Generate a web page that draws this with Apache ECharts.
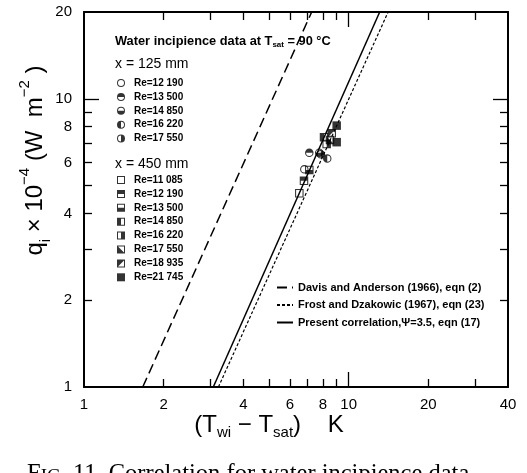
<!DOCTYPE html>
<html>
<head>
<meta charset="utf-8">
<script src="https://cdn.jsdelivr.net/npm/echarts@6/dist/echarts.min.js"></script>
<style>
  html, body { margin: 0; padding: 0; background: #fff; }
  #chart { width: 527px; height: 473px; }
</style>
</head>
<body>
<div id="chart"></div>
<script>
// Wall superheat (K) vs. incipience heat flux (x 10^-4 W m^-2), water at Tsat = 90 C
const reNear = ['Re=12 190', 'Re=13 500', 'Re=14 850', 'Re=16 220', 'Re=17 550'];
const nearPoints = [
  [[6.80, 5.69]],
  [[7.10, 6.50]],
  [[7.74, 6.50]],
  [[8.30, 6.20]],
  [[7.85, 6.42]]
];
const reFar = ['Re=11 085', 'Re=12 190', 'Re=13 500', 'Re=14 850', 'Re=16 220', 'Re=17 550', 'Re=18 935', 'Re=21 745'];
const farPoints = [
  [[6.51, 4.70]],
  [[6.78, 5.19]],
  [[7.10, 5.66]],
  [[8.07, 7.35]],
  [[8.26, 6.97]],
  [[8.50, 7.19]],
  [[8.63, 7.59]],
  [[9.01, 8.07], [9.01, 7.07]]
];
const davisX = [1.667, 7.25];
const davisY = [1, 20];
const frostX = [3.22, 14.1];
const frostY = [1, 20];
const presentX = [3.08, 13.1];
const presentY = [1, 20];
const xTickLabels = [1, 2, 4, 6, 8, 10, 20, 40];
const yTickLabels = [1, 2, 4, 6, 8, 10, 20];
const xMinorTicks = [2, 3, 4, 5, 6, 7, 8, 9, 20, 30];
const yMinorTicks = [2, 3, 4, 5, 6, 7, 8, 9];
const decadeTicks = [10];

// Marker outlines: outer shape clockwise, unfilled part counter-clockwise (hole)
const circleOuter = 'M0,10 A10,10 0 1,1 20,10 A10,10 0 1,1 0,10 Z ';
const squareOuter = 'M0,0 L20,0 L20,20 L0,20 Z ';
const circleSymbols = [
  circleOuter + 'M2.5,10 A7.5,7.5 0 1,0 17.5,10 A7.5,7.5 0 1,0 2.5,10 Z', // open
  circleOuter + 'M2.5,10 A7.5,7.5 0 0,0 17.5,10 Z',                        // top filled
  circleOuter + 'M17.5,10 A7.5,7.5 0 0,0 2.5,10 Z',                        // bottom filled
  circleOuter + 'M10,17.5 A7.5,7.5 0 0,0 10,2.5 Z',                        // left filled
  circleOuter + 'M10,2.5 A7.5,7.5 0 0,0 10,17.5 Z'                         // right filled
].map(p => 'path://' + p);
const squareSymbols = [
  squareOuter + 'M2.5,2.5 L2.5,17.5 L17.5,17.5 L17.5,2.5 Z', // open
  squareOuter + 'M2.5,10 L2.5,17.5 L17.5,17.5 L17.5,10 Z',   // top filled
  squareOuter + 'M2.5,2.5 L2.5,10 L17.5,10 L17.5,2.5 Z',     // bottom filled
  squareOuter + 'M10,2.5 L10,17.5 L17.5,17.5 L17.5,2.5 Z',   // left filled
  squareOuter + 'M2.5,2.5 L2.5,17.5 L10,17.5 L10,2.5 Z',     // right filled
  squareOuter + 'M2.5,2.5 L17.5,17.5 L17.5,2.5 Z',           // lower-left filled
  squareOuter + 'M17.5,2.5 L2.5,17.5 L17.5,17.5 Z',          // upper-left filled
  squareOuter                                                // solid
].map(p => 'path://' + p);

const zip = (xs, ys) => xs.map((x, i) => [x, ys[i]]);
const FONT = 'Liberation Sans';
const nearNames = reNear.map(n => 'x125 ' + n);
const farNames = reFar.map(n => 'x450 ' + n);
const lineNames = [
  'Davis and Anderson (1966), eqn (2)',
  'Frost and Dzakowic (1967), eqn (23)',
  'Present correlation,\u03A8=3.5, eqn (17)'
];

const series = [];
series.push({
  name: lineNames[0], type: 'line', data: zip(davisX, davisY), symbol: 'none',
  lineStyle: { color: '#000', width: 1.5, type: [10, 5] }, itemStyle: { color: '#000' }, z: 2
});
series.push({
  name: lineNames[1], type: 'line', data: zip(frostX, frostY), symbol: 'none',
  lineStyle: { color: '#000', width: 1.2, type: [3, 2] }, itemStyle: { color: '#000' }, z: 2
});
series.push({
  name: lineNames[2], type: 'line', data: zip(presentX, presentY), symbol: 'none',
  lineStyle: { color: '#000', width: 1.5, type: 'solid' }, itemStyle: { color: '#000' }, z: 2
});
nearNames.forEach((n, i) => series.push({
  name: n, type: 'scatter', data: nearPoints[i], symbol: circleSymbols[i], symbolSize: 8.5,
  itemStyle: { color: '#000' }, z: 3
}));
farNames.forEach((n, i) => series.push({
  name: n, type: 'scatter', data: farPoints[i], symbol: squareSymbols[i], symbolSize: 8.5,
  itemStyle: { color: '#000' }, z: 3
}));

const stripGroup = name => name.replace(/^x\d+ /, '');

function logAxis(extra) {
  return Object.assign({
    type: 'log', logBase: 10, gridIndex: 0,
    splitLine: { show: false }, minorTick: { show: false }
  }, extra);
}
const tickLine = { color: '#000', width: 1.3 };

const option = {
  animation: false,
  backgroundColor: '#fff',
  grid: { left: 84, right: 19, top: 12, bottom: 86, containLabel: false },
  title: [
    {
      text: 'Water incipience data at T{s|sat} = 90 \u00B0C',
      left: 115, top: 34, padding: 0,
      textStyle: {
        fontFamily: FONT, fontSize: 12.8, fontWeight: 'bold', color: '#000',
        rich: { s: { fontFamily: FONT, fontSize: 8, fontWeight: 'bold', color: '#000', padding: [7, 0, 0, 0] } }
      }
    },
    { text: 'x = 125 mm', left: 115, top: 57, padding: 0,
      textStyle: { fontFamily: FONT, fontSize: 14, fontWeight: 'normal', color: '#000' } },
    { text: 'x = 450 mm', left: 115, top: 157, padding: 0,
      textStyle: { fontFamily: FONT, fontSize: 14, fontWeight: 'normal', color: '#000' } }
  ],
  legend: [
    {
      data: nearNames, orient: 'vertical', left: 117, top: 78, padding: 0,
      itemWidth: 16, itemHeight: 8, itemGap: 3.9, selectedMode: false,
      formatter: stripGroup,
      textStyle: { fontFamily: FONT, fontSize: 10, fontWeight: 'bold', color: '#000', lineHeight: 10 }
    },
    {
      data: farNames, orient: 'vertical', left: 117, top: 175, padding: 0,
      itemWidth: 16, itemHeight: 8, itemGap: 3.9, selectedMode: false,
      formatter: stripGroup,
      textStyle: { fontFamily: FONT, fontSize: 10, fontWeight: 'bold', color: '#000', lineHeight: 10 }
    },
    {
      data: lineNames, orient: 'vertical', left: 276, top: 282, padding: 0,
      itemWidth: 16, itemHeight: 10, itemGap: 6.5, selectedMode: false,
      itemStyle: { color: 'rgba(0,0,0,0)', borderWidth: 0, opacity: 0 },
      textStyle: { fontFamily: FONT, fontSize: 11, fontWeight: 'bold', color: '#000', lineHeight: 10 }
    }
  ],
  xAxis: [
    logAxis({
      min: 1, max: 40, position: 'bottom',
      axisLine: { show: true, lineStyle: { color: '#000', width: 2 } },
      axisTick: { show: true, inside: true, length: 8, customValues: xMinorTicks, lineStyle: tickLine },
      axisLabel: { show: true, customValues: xTickLabels, margin: 10, fontFamily: FONT, fontSize: 15, color: '#000' },
      name: '(T{sub|wi} \u2212 T{sub|sat})    K', nameLocation: 'middle', nameGap: 23,
      nameMoveOverlap: false,
      nameTextStyle: {
        fontFamily: FONT, fontSize: 24, color: '#000', lineHeight: 30, padding: [0, 54, 0, 0],
        rich: {
          sub: { fontFamily: FONT, fontSize: 15, color: '#000', verticalAlign: 'bottom', lineHeight: 30 }
        }
      }
    }),
    logAxis({
      min: 1, max: 40, position: 'bottom',
      axisLine: { show: false },
      axisTick: { show: true, inside: true, length: 15, customValues: decadeTicks, lineStyle: tickLine },
      axisLabel: { show: false }
    }),
    logAxis({
      min: 1, max: 40, position: 'top',
      axisLine: { show: true, lineStyle: { color: '#000', width: 2 } },
      axisTick: { show: true, inside: true, length: 8, customValues: xMinorTicks, lineStyle: tickLine },
      axisLabel: { show: false }
    }),
    logAxis({
      min: 1, max: 40, position: 'top',
      axisLine: { show: false },
      axisTick: { show: true, inside: true, length: 15, customValues: decadeTicks, lineStyle: tickLine },
      axisLabel: { show: false }
    })
  ],
  yAxis: [
    logAxis({
      min: 1, max: 20, position: 'left',
      axisLine: { show: true, lineStyle: { color: '#000', width: 2 } },
      axisTick: { show: true, inside: true, length: 8, customValues: yMinorTicks, lineStyle: tickLine },
      axisLabel: { show: true, customValues: yTickLabels, margin: 12, fontFamily: FONT, fontSize: 15, color: '#000' },
      name: '{b|q}{sub|i}{b| \u00D7 10}{sup|\u22124}{b| (W  m}{sup|\u22122}{b| )}',
      nameLocation: 'middle', nameRotate: 90, nameGap: 31, nameMoveOverlap: false,
      nameTextStyle: {
        fontFamily: FONT, fontSize: 24, color: '#000', padding: [0, 0, 0, 78],
        rich: {
          b: { fontFamily: FONT, fontSize: 24, color: '#000', lineHeight: 36, verticalAlign: 'middle' },
          sup: { fontFamily: FONT, fontSize: 15, color: '#000', lineHeight: 36, verticalAlign: 'top' },
          sub: { fontFamily: FONT, fontSize: 15, color: '#000', lineHeight: 36, verticalAlign: 'bottom' }
        }
      }
    }),
    logAxis({
      min: 1, max: 20, position: 'left',
      axisLine: { show: false },
      axisTick: { show: true, inside: true, length: 15, customValues: decadeTicks, lineStyle: tickLine },
      axisLabel: { show: false }
    }),
    logAxis({
      min: 1, max: 20, position: 'right',
      axisLine: { show: true, lineStyle: { color: '#000', width: 2 } },
      axisTick: { show: true, inside: true, length: 8, customValues: yMinorTicks, lineStyle: tickLine },
      axisLabel: { show: false }
    }),
    logAxis({
      min: 1, max: 20, position: 'right',
      axisLine: { show: false },
      axisTick: { show: true, inside: true, length: 15, customValues: decadeTicks, lineStyle: tickLine },
      axisLabel: { show: false }
    })
  ],
  graphic: [
    {
      type: 'text', left: 27, top: 462, silent: true,
      style: {
        text: 'F{sc|IG}. 11. Correlation for water incipience data.',
        fontFamily: 'Liberation Serif', fontSize: 24.5, fill: '#000',
        rich: { sc: { fontFamily: 'Liberation Serif', fontSize: 19, fill: '#000', verticalAlign: 'bottom', lineHeight: 24 } }
      }
    }
  ],
  series: series
};

const chart = echarts.init(document.getElementById('chart'), null, { renderer: 'canvas' });
chart.setOption(option);
</script>
</body>
</html>
